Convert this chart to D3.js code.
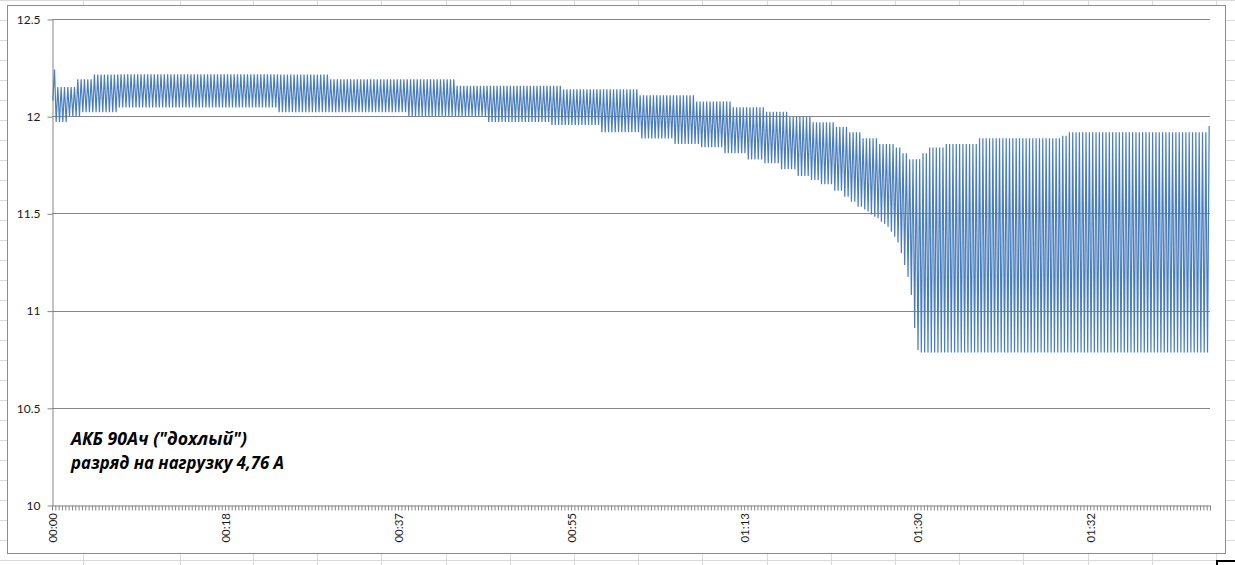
<!DOCTYPE html>
<html>
<head>
<meta charset="utf-8">
<script src="https://cdn.jsdelivr.net/npm/d3@7"></script>
<style>
  html, body { margin: 0; padding: 0; background: #fff; }
  svg { display: block; }
</style>
</head>
<body>
<svg id="chart" width="1235" height="565"></svg>
<script>
// ---- data ----
const xTickLabels = ["00:00", "00:18", "00:37", "00:55", "01:13", "01:30", "01:32"];
const xLabelEvery = 104;          // categories between time labels
const yTicks = [10, 10.5, 11, 11.5, 12, 12.5];
const yTickLabels = ["10", "10.5", "11", "11.5", "12", "12.5"];

// first two samples, then the series alternates low / high every sample
const startValues = [12.08, 12.24];
// [cycles, volts] for the upper points of the zigzag
const highRuns = [
  [6, 12.15], [5, 12.19], [71, 12.215], [38, 12.19], [32, 12.157], [23, 12.138],
  [17, 12.108], [11, 12.075], [10, 12.046], [7, 12.023], [7, 11.997], [7, 11.969],
  [4, 11.946], [4, 11.917], [5, 11.886], [5, 11.857], [2, 11.839], [2, 11.809],
  [4, 11.778], [2, 11.809], [5, 11.839], [10, 11.857], [25, 11.886], [2, 11.90],
  [42, 11.917], [1, 11.95]
];
// [cycles, volts] for the lower points of the zigzag
const lowRuns = [
  [4, 11.97], [4, 12.0], [11, 12.02], [48, 12.045], [39, 12.02], [24, 12.0],
  [19, 11.97], [15, 11.955], [12, 11.917], [10, 11.886], [8, 11.857], [7, 11.84],
  [7, 11.809], [5, 11.778], [5, 11.758], [5, 11.727], [4, 11.692], [3, 11.672],
  [4, 11.65], [3, 11.617], [2, 11.586], [2, 11.56],
  [2, 11.534], [1, 11.52], [1, 11.51], [1, 11.495], [1, 11.483], [1, 11.475],
  [1, 11.457], [1, 11.445], [1, 11.432], [1, 11.406], [1, 11.38], [1, 11.35],
  [1, 11.296], [1, 11.235], [1, 11.173], [1, 11.08], [1, 10.91], [1, 10.797],
  [87, 10.785]
];

const noteLines = ['АКБ 90Ач ("дохлый")', 'разряд на нагрузку 4,76 А'];

// ---- build the series ----
function expandRuns(runs) {
  const out = [];
  runs.forEach(([n, v]) => { for (let i = 0; i < n; i++) out.push(v); });
  return out;
}
const highs = expandRuns(highRuns);
const lows = expandRuns(lowRuns);
const voltage = startValues.slice();
lows.forEach((lo, k) => voltage.push(lo, highs[k]));

// ---- layout ----
const W = 1235, H = 565;
const plot = { left: 52, top: 19, right: 1210, bottom: 505 };

const svg = d3.select("#chart");

// excel sheet grid behind the chart
const sheet = svg.append("g").attr("stroke", "#d9d9d9").attr("stroke-width", 1);
const colLines = [83, 180].concat(d3.range(0, 16).map(j => 253 + j * 64.2));
colLines.forEach(cx => {
  sheet.append("line").attr("x1", Math.round(cx) + 0.5).attr("x2", Math.round(cx) + 0.5)
       .attr("y1", 0).attr("y2", H);
});
d3.range(0, 29).forEach(r => {
  sheet.append("line").attr("x1", 0).attr("x2", W)
       .attr("y1", r * 20 + 0.5).attr("y2", r * 20 + 0.5);
});

// selected cell corner bottom right
svg.append("path")
   .attr("d", "M1235,561 H1217 V565")
   .attr("fill", "none").attr("stroke", "#000").attr("stroke-width", 2);

// chart area
svg.append("rect")
   .attr("x", 7.5).attr("y", 5.5).attr("width", 1218).attr("height", 548)
   .attr("fill", "#fff").attr("stroke", "#8c8c8c").attr("stroke-width", 1);

// scales
const x = d3.scaleBand()
            .domain(d3.range(voltage.length))
            .range([plot.left, plot.right]);
const xEdge = d3.scaleLinear()
                .domain([0, voltage.length])
                .range([plot.left, plot.right]);
const y = d3.scaleLinear()
            .domain([10, 12.5])
            .range([plot.bottom, plot.top]);

// horizontal gridlines
svg.append("g")
   .selectAll("line")
   .data(yTicks.slice(1))
   .join("line")
   .attr("x1", plot.left).attr("x2", plot.right)
   .attr("y1", d => Math.round(y(d)) + 0.5).attr("y2", d => Math.round(y(d)) + 0.5)
   .attr("stroke", "#868686").attr("stroke-width", 1);

// y axis
const yAxis = svg.append("g")
   .attr("transform", `translate(${plot.left + 0.5},0.5)`)
   .call(d3.axisLeft(y)
           .tickValues(yTicks)
           .tickSize(5)
           .tickSizeOuter(0)
           .tickPadding(7)
           .tickFormat((d, i) => yTickLabels[i]));
yAxis.select(".domain").attr("stroke", "#868686");
yAxis.selectAll(".tick line").attr("stroke", "#868686");
yAxis.selectAll(".tick text")
     .attr("font-family", "Lato, 'Liberation Sans', sans-serif")
     .attr("font-size", "12px").attr("fill", "#1a1a1a");

// x axis: small tick every 2 categories
const xAxis = svg.append("g")
   .attr("transform", `translate(0,${Math.round(plot.bottom) + 0.5})`)
   .call(d3.axisBottom(xEdge)
           .tickValues(d3.range(0, voltage.length + 1, 2))
           .tickSize(5)
           .tickSizeOuter(0)
           .tickFormat(""));
xAxis.select(".domain").attr("stroke", "#868686");
xAxis.selectAll(".tick line").attr("stroke", "#868686");

// x time labels, rotated
const labelIdx = xTickLabels.map((_, i) => i * xLabelEvery);
svg.append("g")
   .selectAll("text")
   .data(labelIdx)
   .join("text")
   .attr("transform", d => `translate(${x(d) + x.bandwidth() / 2},513) rotate(-90)`)
   .attr("text-anchor", "end")
   .attr("dy", "0.35em")
   .attr("font-family", "Lato, 'Liberation Sans', sans-serif")
   .attr("font-size", "11.5px")
   .attr("fill", "#1a1a1a")
   .text((d, i) => xTickLabels[i]);

// the voltage line
const line = d3.line()
               .x((d, i) => x(i) + x.bandwidth() / 2)
               .y(d => y(d));
svg.append("path")
   .datum(voltage)
   .attr("fill", "none")
   .attr("stroke", "#4a7ebb")
   .attr("stroke-width", 1.2)
   .attr("stroke-linejoin", "miter")
   .attr("d", line);

// note text
const noteWidths = [176, 213];
svg.append("g")
   .selectAll("text")
   .data(noteLines)
   .join("text")
   .attr("x", 71)
   .attr("y", (d, i) => 445 + i * 24)
   .attr("font-family", "'Open Sans', 'Noto Sans', sans-serif")
   .attr("font-weight", "bold")
   .attr("font-style", "italic")
   .attr("font-size", "17.5px")
   .attr("fill", "#000")
   .attr("textLength", (d, i) => noteWidths[i])
   .attr("lengthAdjust", "spacingAndGlyphs")
   .text(d => d);
</script>
</body>
</html>
